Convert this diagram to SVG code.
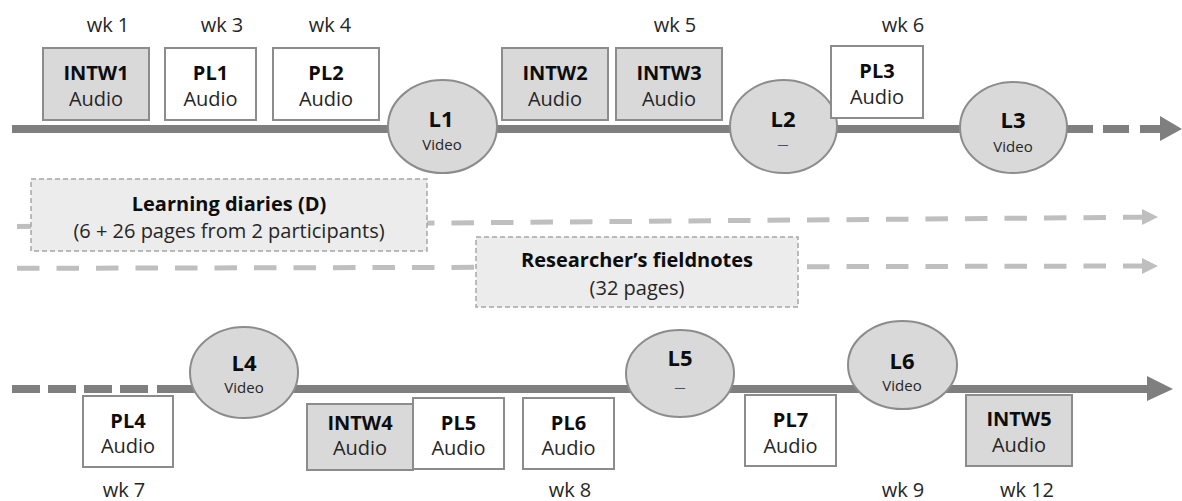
<svg xmlns="http://www.w3.org/2000/svg" width="1182" height="501" viewBox="0 0 1182 501">
<style>
.line{stroke:#7f7f7f;stroke-width:8;fill:none}
.ldash{stroke:#7f7f7f;stroke-width:8;fill:none;stroke-dasharray:26 10}
.ldash2{stroke:#7f7f7f;stroke-width:8;fill:none;stroke-dasharray:28 8}
.dash{stroke:#bfbfbf;stroke-width:5;fill:none;stroke-dasharray:22.5 17}
.head{fill:#7f7f7f}
.lhead{fill:#bfbfbf}
.circ{fill:#d9d9d9;stroke:#8c8c8c;stroke-width:2}
.box{fill:#ffffff;stroke:#8c8c8c;stroke-width:2}
.gbox{fill:#d9d9d9;stroke:#8c8c8c;stroke-width:2}
.dbox{fill:#ececec;stroke:#a6a6a6;stroke-width:1.5;stroke-dasharray:5 3}
text{font-family:"Open Sans","Liberation Sans",sans-serif;text-anchor:middle;fill:#262626}
.t{font-size:20px}
.b{font-size:20px;font-weight:bold;fill:#0d0d0d}
.lb{font-size:22px;font-weight:bold;fill:#0d0d0d}
.sm{font-size:15px}
.dsh{font-size:11px;fill:#44546a}
</style>
<g id="connectors">
  <path class="line" d="M12 129 H1067"/>
  <path class="ldash" d="M1067 129 H1130"/>
  <path class="line" d="M1140 129 H1162"/>
  <polygon class="head" points="1160,116 1182,129 1160,141"/>
  <path class="dash" d="M17 226.5 L1142 217.2"/>
  <polygon class="lhead" points="1142,209 1158,217 1142,225"/>
  <path class="dash" d="M17 268.3 L1142 266"/>
  <polygon class="lhead" points="1142,258 1158,266 1142,274"/>
  <path class="ldash2" d="M12 389 H150"/>
  <path class="line" d="M157 389 H1150"/>
  <polygon class="head" points="1147,376 1173,389 1147,401"/>
</g>
<g id="L1"><ellipse class="circ" cx="442.5" cy="126.5" rx="54.5" ry="46.5"/><text class="lb" x="441" y="127">L1</text><text class="sm" x="442" y="150">Video</text></g>
<g id="L2"><ellipse class="circ" cx="783.5" cy="126.5" rx="53.5" ry="46.5"/><text class="lb" x="783" y="127">L2</text><text class="dsh" x="783" y="148">—</text></g>
<g id="L3"><ellipse class="circ" cx="1013.5" cy="127.5" rx="53.5" ry="45.5"/><text class="lb" x="1013" y="128">L3</text><text class="sm" x="1013" y="152">Video</text></g>
<g id="L4"><ellipse class="circ" cx="244" cy="372.5" rx="54" ry="45.5"/><text class="lb" x="244" y="371">L4</text><text class="sm" x="244" y="393">Video</text></g>
<g id="L5"><ellipse class="circ" cx="680" cy="373.5" rx="54" ry="43.5"/><text class="lb" x="680" y="366">L5</text><text class="dsh" x="680" y="391">—</text></g>
<g id="L6"><ellipse class="circ" cx="902.5" cy="365" rx="54.5" ry="44"/><text class="lb" x="902" y="369">L6</text><text class="sm" x="902" y="391">Video</text></g>
<g id="INTW1"><rect class="gbox" x="43" y="48" width="106" height="72"/><text class="b" x="96" y="80">INTW1</text><text class="t" x="96" y="106">Audio</text></g>
<g id="PL1"><rect class="box" x="165" y="48" width="91" height="72"/><text class="b" x="210.5" y="80">PL1</text><text class="t" x="210.5" y="106">Audio</text></g>
<g id="PL2"><rect class="box" x="273" y="48" width="106" height="72"/><text class="b" x="326" y="80">PL2</text><text class="t" x="326" y="106">Audio</text></g>
<g id="INTW2"><rect class="gbox" x="502" y="48" width="106" height="72"/><text class="b" x="555" y="80">INTW2</text><text class="t" x="555" y="106">Audio</text></g>
<g id="INTW3"><rect class="gbox" x="616" y="48" width="106" height="72"/><text class="b" x="669" y="80">INTW3</text><text class="t" x="669" y="106">Audio</text></g>
<g id="PL3"><rect class="box" x="831" y="46" width="92" height="72"/><text class="b" x="877" y="78">PL3</text><text class="t" x="877" y="104">Audio</text></g>
<g id="PL4"><rect class="box" x="83" y="396" width="90" height="71"/><text class="b" x="128" y="428">PL4</text><text class="t" x="128" y="453">Audio</text></g>
<g id="INTW4"><rect class="gbox" x="307" y="404" width="106" height="66"/><text class="b" x="360" y="430">INTW4</text><text class="t" x="360" y="455">Audio</text></g>
<g id="PL5"><rect class="box" x="413" y="398" width="91" height="71"/><text class="b" x="458.5" y="430">PL5</text><text class="t" x="458.5" y="455">Audio</text></g>
<g id="PL6"><rect class="box" x="523" y="398" width="91" height="71"/><text class="b" x="568.5" y="430">PL6</text><text class="t" x="568.5" y="455">Audio</text></g>
<g id="PL7"><rect class="box" x="745" y="395" width="91" height="71"/><text class="b" x="790.5" y="427">PL7</text><text class="t" x="790.5" y="453">Audio</text></g>
<g id="INTW5"><rect class="gbox" x="966" y="395" width="106" height="71"/><text class="b" x="1019" y="426">INTW5</text><text class="t" x="1019" y="452">Audio</text></g>
<g id="diaries"><rect class="dbox" x="31" y="179" width="396" height="72"/><text class="b" x="229" y="211">Learning diaries (D)</text><text class="t" x="229" y="238">(6 + 26 pages from 2 participants)</text></g>
<g id="fieldnotes"><rect class="dbox" x="476" y="237" width="322" height="70"/><text class="b" x="637" y="267">Researcher’s fieldnotes</text><text class="t" x="637" y="295">(32 pages)</text></g>
<g id="weeks">
  <text class="t" x="108" y="32">wk 1</text>
  <text class="t" x="222" y="32">wk 3</text>
  <text class="t" x="330" y="32">wk 4</text>
  <text class="t" x="675" y="32">wk 5</text>
  <text class="t" x="903" y="32">wk 6</text>
  <text class="t" x="124" y="497">wk 7</text>
  <text class="t" x="570" y="497">wk 8</text>
  <text class="t" x="903" y="497">wk 9</text>
  <text class="t" x="1027" y="497">wk 12</text>
</g>
</svg>
